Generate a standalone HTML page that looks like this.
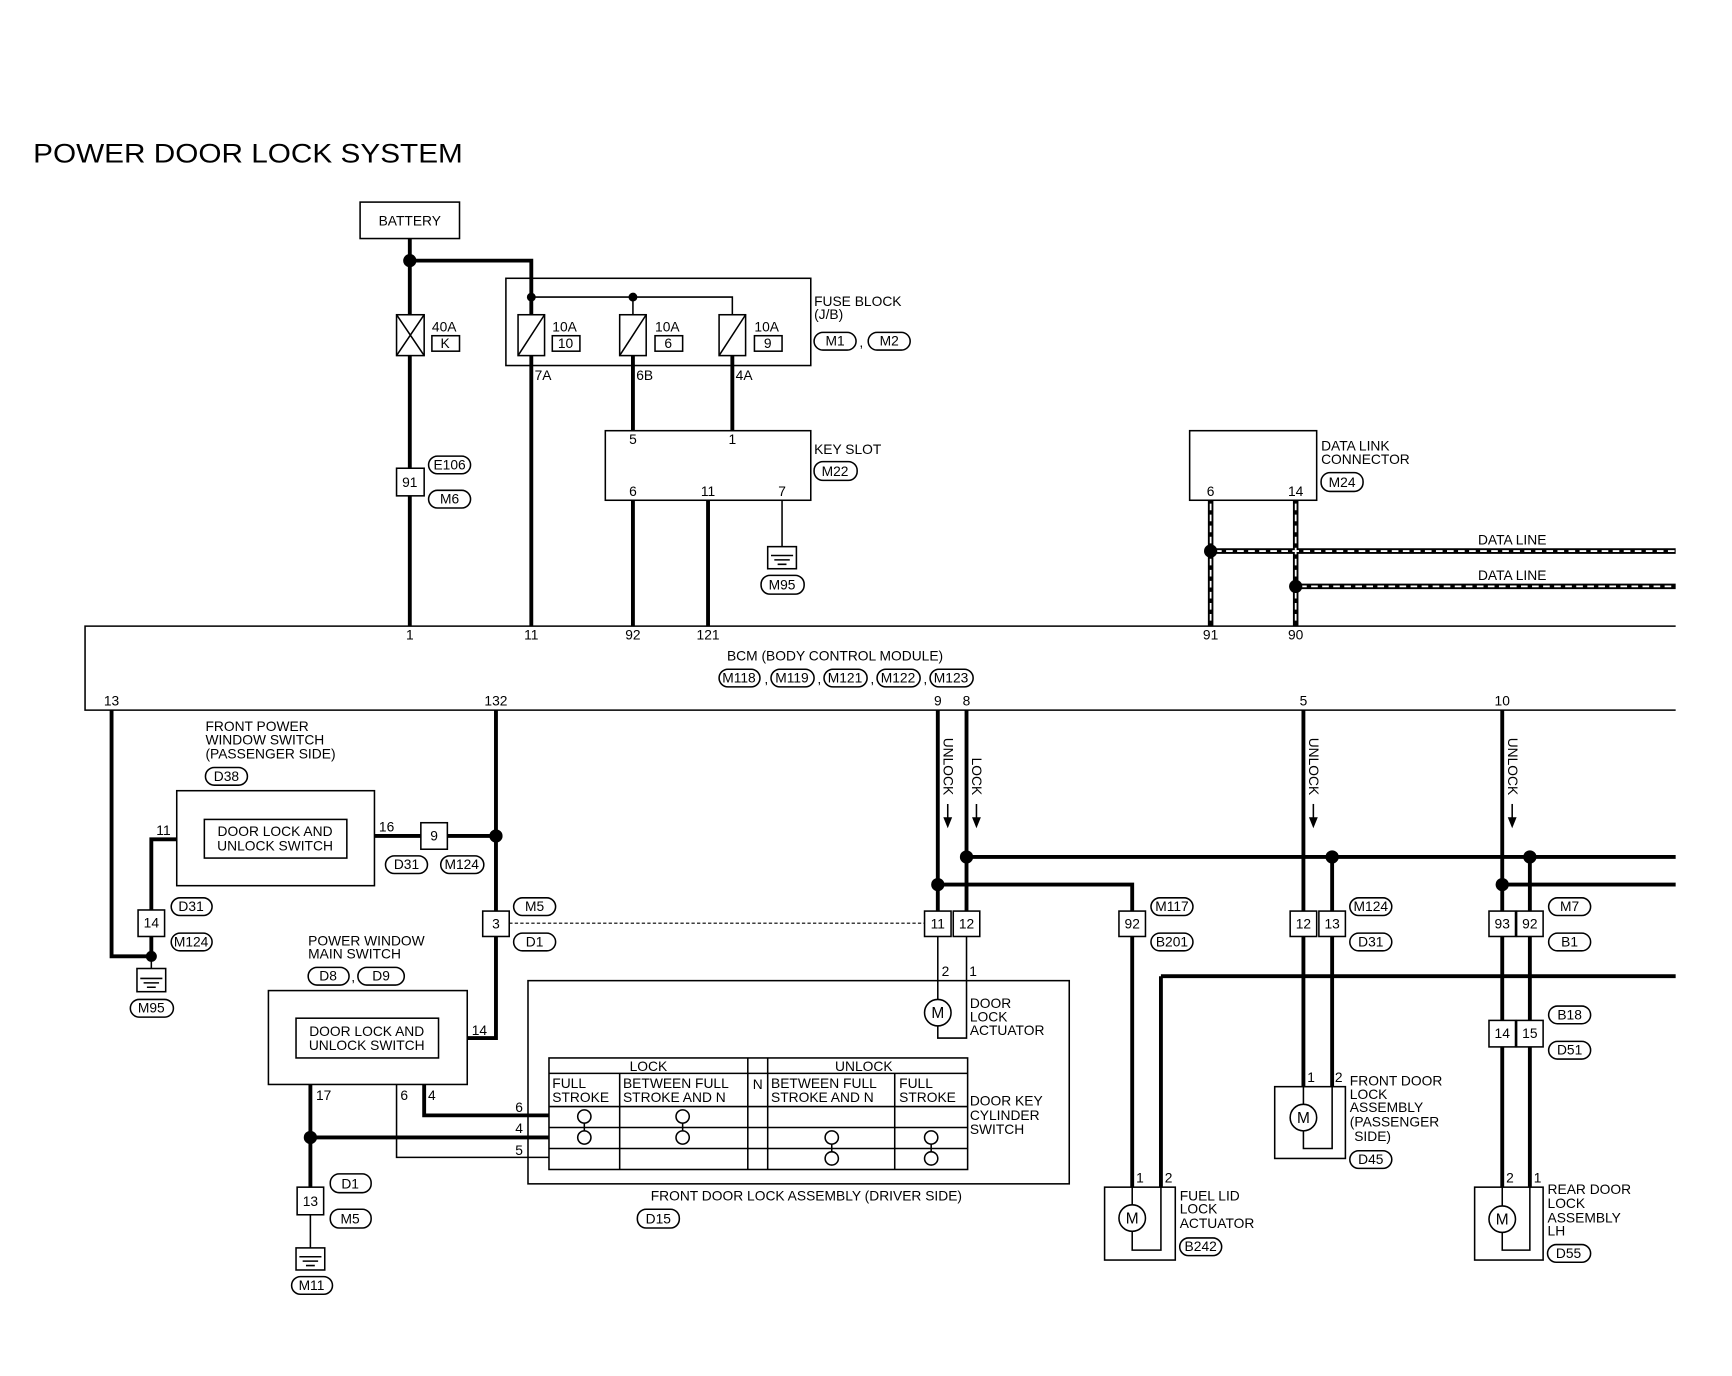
<!DOCTYPE html>
<html><head><meta charset="utf-8"><style>
html,body{margin:0;padding:0;background:#fff;}
svg{display:block;}
text{font-family:"Liberation Sans",sans-serif;font-size:12.5px;fill:#000;}
.t{stroke:#000;stroke-width:3.5;fill:none;}
.n{stroke:#000;stroke-width:1.4;fill:none;}
.b{stroke:#000;stroke-width:1.4;fill:#fff;}
.c{text-anchor:middle;}
</style></head><body>
<svg width="1732" height="1376" viewBox="0 0 1568 1246" preserveAspectRatio="none" xmlns="http://www.w3.org/2000/svg">
<rect width="1568" height="1246" fill="#fff"/>
<text x="30" y="147" style="font-size:24px" textLength="389" lengthAdjust="spacingAndGlyphs">POWER DOOR LOCK SYSTEM</text>

<!-- Battery -->
<rect class="b" x="326" y="183" width="90" height="33"/>
<text x="371" y="204" class="c">BATTERY</text>
<path class="t" d="M371 216V285M371 322V567M371 236H481V269"/>
<circle cx="371" cy="236" r="6"/>
<!-- 40A fuse -->
<rect class="b" x="359" y="285" width="25" height="37"/>
<path class="n" d="M359 285L384 322M384 285L359 322"/>
<text x="391" y="300">40A</text>
<rect class="b" x="391" y="304" width="25" height="14"/><text x="403" y="315" class="c">K</text>
<!-- connector 91 -->
<rect class="b" x="359" y="424" width="25" height="25"/><text x="371" y="441" class="c">91</text>
<rect class="b" x="388" y="413" width="38" height="16" rx="8"/><text x="407" y="425" class="c">E106</text>
<rect class="b" x="388" y="444" width="38" height="16" rx="8"/><text x="407" y="456" class="c">M6</text>

<!-- Fuse block -->
<rect class="n" x="458" y="252" width="276" height="79"/>
<path class="n" d="M481 269H663V285M573 269V285"/>
<path class="t" d="M481 269V285"/>
<circle cx="481" cy="269" r="4"/><circle cx="573" cy="269" r="4"/>
<g>
<rect class="b" x="469" y="285" width="24" height="37"/><path class="n" d="M469 322L493 285"/>
<text x="500" y="300">10A</text><rect class="b" x="500" y="304" width="25" height="14"/><text x="512" y="315" class="c">10</text>
<rect class="b" x="561" y="285" width="24" height="37"/><path class="n" d="M561 322L585 285"/>
<text x="593" y="300">10A</text><rect class="b" x="593" y="304" width="25" height="14"/><text x="605" y="315" class="c">6</text>
<rect class="b" x="651" y="285" width="24" height="37"/><path class="n" d="M651 322L675 285"/>
<text x="683" y="300">10A</text><rect class="b" x="683" y="304" width="25" height="14"/><text x="695" y="315" class="c">9</text>
</g>
<text x="737" y="277">FUSE BLOCK</text><text x="737" y="289">(J/B)</text>
<rect class="b" x="737" y="301" width="38" height="16" rx="8"/><text x="756" y="313" class="c">M1</text>
<text x="778" y="314">,</text>
<rect class="b" x="786" y="301" width="38" height="16" rx="8"/><text x="805" y="313" class="c">M2</text>
<path class="t" d="M481 322V567M573 322V390M663 322V390"/>
<text x="484" y="344">7A</text><text x="576" y="344">6B</text><text x="666" y="344">4A</text>

<!-- Key slot -->
<rect class="b" x="548" y="390" width="186" height="63"/>
<text x="573" y="402" class="c">5</text><text x="663" y="402" class="c">1</text>
<text x="573" y="449" class="c">6</text><text x="641" y="449" class="c">11</text><text x="708" y="449" class="c">7</text>
<text x="737" y="411">KEY SLOT</text>
<rect class="b" x="737" y="418" width="39" height="17" rx="8"/><text x="756" y="431" class="c">M22</text>
<path class="t" d="M573 453V567M641 453V567"/>
<path class="n" d="M708 453V495"/>
<rect class="b" x="695" y="495" width="26" height="20"/>
<path class="n" d="M698 503H718M701 507H715M704 511H712"/>
<rect class="b" x="689" y="521" width="39" height="17" rx="8"/><text x="708" y="534" class="c">M95</text>

<!-- Data link connector -->
<rect class="b" x="1077" y="390" width="115" height="63"/>
<text x="1096" y="449" class="c">6</text><text x="1173" y="449" class="c">14</text>
<text x="1196" y="408">DATA LINK</text><text x="1196" y="420">CONNECTOR</text>
<rect class="b" x="1196" y="428" width="38" height="17" rx="8"/><text x="1215" y="441" class="c">M24</text>
<g stroke="#000" stroke-width="5" fill="none">
<path d="M1096 453V567M1173 453V567M1096 499H1517M1173 531H1517"/>
</g>
<g stroke="#fff" stroke-width="1.6" stroke-dasharray="6 4" fill="none">
<path d="M1096 456V564M1173 456V564M1100 499H1517M1177 531H1517"/>
</g>
<circle cx="1096" cy="499" r="6"/><circle cx="1173" cy="531" r="6"/>
<text x="1338" y="493">DATA LINE</text><text x="1338" y="525">DATA LINE</text>

<!-- BCM -->
<path class="n" d="M1517 567H77V643H1517"/>
<text x="371" y="579" class="c">1</text><text x="481" y="579" class="c">11</text><text x="573" y="579" class="c">92</text>
<text x="641" y="579" class="c">121</text><text x="1096" y="579" class="c">91</text><text x="1173" y="579" class="c">90</text>
<text x="756" y="598" class="c">BCM (BODY CONTROL MODULE)</text>
<rect class="b" x="651" y="606" width="37" height="16" rx="8"/><text x="669" y="618" class="c">M118</text>
<rect class="b" x="698" y="606" width="39" height="16" rx="8"/><text x="717" y="618" class="c">M119</text>
<rect class="b" x="746" y="606" width="39" height="16" rx="8"/><text x="765" y="618" class="c">M121</text>
<rect class="b" x="794" y="606" width="39" height="16" rx="8"/><text x="813" y="618" class="c">M122</text>
<rect class="b" x="842" y="606" width="39" height="16" rx="8"/><text x="861" y="618" class="c">M123</text>
<text x="692" y="619">,</text><text x="740" y="619">,</text><text x="788" y="619">,</text><text x="836" y="619">,</text>
<text x="101" y="639" class="c">13</text><text x="449" y="639" class="c">132</text>
<text x="849" y="639" class="c">9</text><text x="875" y="639" class="c">8</text>
<text x="1180" y="639" class="c">5</text><text x="1360" y="639" class="c">10</text>

<!-- Passenger window switch -->
<path class="t" d="M101 643V866H137V848M137 824V760H160"/>
<path class="n" d="M137 866V877"/>
<circle cx="137" cy="866" r="5"/>
<text x="148" y="756" class="c">11</text>
<text x="186" y="662">FRONT POWER</text><text x="186" y="674">WINDOW SWITCH</text><text x="186" y="687">(PASSENGER SIDE)</text>
<rect class="b" x="186" y="695" width="38" height="16" rx="8"/><text x="205" y="707" class="c">D38</text>
<rect class="b" x="160" y="716" width="179" height="86"/>
<rect class="b" x="185" y="742" width="129" height="35"/>
<text x="249" y="757" class="c">DOOR LOCK AND</text><text x="249" y="770" class="c">UNLOCK SWITCH</text>
<text x="350" y="753" class="c">16</text>
<path class="t" d="M339 757H381M405 757H449"/>
<rect class="b" x="381" y="745" width="24" height="24"/><text x="393" y="761" class="c">9</text>
<rect class="b" x="349" y="775" width="38" height="16" rx="8"/><text x="368" y="787" class="c">D31</text>
<rect class="b" x="399" y="775" width="39" height="16" rx="8"/><text x="418" y="787" class="c">M124</text>
<rect class="b" x="125" y="824" width="24" height="24"/><text x="137" y="840" class="c">14</text>
<rect class="b" x="155" y="813" width="37" height="16" rx="8"/><text x="173" y="825" class="c">D31</text>
<rect class="b" x="155" y="845" width="37" height="16" rx="8"/><text x="173" y="857" class="c">M124</text>
<rect class="b" x="124" y="877" width="26" height="21"/>
<path class="n" d="M127 886H147M130 890H144M133 894H141"/>
<rect class="b" x="118" y="905" width="39" height="16" rx="8"/><text x="137" y="917" class="c">M95</text>

<!-- 132 line -->
<path class="t" d="M449 643V825M449 848V940H423"/>
<circle cx="449" cy="757" r="6"/>
<rect class="b" x="437" y="825" width="24" height="23"/><text x="449" y="841" class="c">3</text>
<rect class="b" x="465" y="813" width="38" height="16" rx="8"/><text x="484" y="825" class="c">M5</text>
<rect class="b" x="465" y="845" width="38" height="16" rx="8"/><text x="484" y="857" class="c">D1</text>
<path d="M461 836H837" stroke="#000" stroke-width="1" stroke-dasharray="3 2"/>
<text x="434" y="937" class="c">14</text>

<!-- Main switch -->
<text x="279" y="856">POWER WINDOW</text><text x="279" y="868">MAIN SWITCH</text>
<rect class="b" x="279" y="876" width="37" height="16" rx="8"/><text x="297" y="888" class="c">D8</text>
<text x="318" y="889">,</text>
<rect class="b" x="324" y="876" width="42" height="16" rx="8"/><text x="345" y="888" class="c">D9</text>
<rect class="b" x="243" y="897" width="180" height="85"/>
<rect class="b" x="268" y="922" width="129" height="36"/>
<text x="332" y="938" class="c">DOOR LOCK AND</text><text x="332" y="951" class="c">UNLOCK SWITCH</text>
<text x="293" y="996" class="c">17</text><text x="366" y="996" class="c">6</text><text x="391" y="996" class="c">4</text>
<path class="t" d="M281 982V1075M281 1030H497M384 982V1010H497"/>
<path class="n" d="M359 982V1048H497M281 1100V1130"/>
<circle cx="281" cy="1030" r="6"/>
<text x="470" y="1007" class="c">6</text><text x="470" y="1026" class="c">4</text><text x="470" y="1046" class="c">5</text>
<rect class="b" x="269" y="1075" width="24" height="25"/><text x="281" y="1092" class="c">13</text>
<rect class="b" x="299" y="1063" width="37" height="17" rx="8"/><text x="317" y="1076" class="c">D1</text>
<rect class="b" x="299" y="1095" width="37" height="17" rx="8"/><text x="317" y="1108" class="c">M5</text>
<rect class="b" x="268" y="1130" width="26" height="20"/>
<path class="n" d="M271 1138H291M274 1142H288M277 1146H285"/>
<rect class="b" x="264" y="1156" width="37" height="16" rx="8"/><text x="282" y="1168" class="c">M11</text>

<!-- Driver door lock assembly -->
<rect class="n" x="478" y="888" width="490" height="184"/>
<rect class="b" x="497" y="958" width="379" height="101"/>
<path class="n" d="M497 972H876M497 1002H876M497 1021H876M497 1040H876M561 972V1059M677 958V1059M695 958V1059M810 972V1059"/>
<text x="587" y="970" class="c">LOCK</text><text x="782" y="970" class="c">UNLOCK</text>
<text x="686" y="986" class="c">N</text>
<text x="500" y="985">FULL</text><text x="500" y="998">STROKE</text>
<text x="564" y="985">BETWEEN FULL</text><text x="564" y="998">STROKE AND N</text>
<text x="698" y="985">BETWEEN FULL</text><text x="698" y="998">STROKE AND N</text>
<text x="814" y="985">FULL</text><text x="814" y="998">STROKE</text>
<g class="n">
<path d="M529 1017V1024M618 1017V1024M753 1036V1043M843 1036V1043"/>
<circle cx="529" cy="1011" r="6"/><circle cx="529" cy="1030" r="6"/>
<circle cx="618" cy="1011" r="6"/><circle cx="618" cy="1030" r="6"/>
<circle cx="753" cy="1030" r="6"/><circle cx="753" cy="1049" r="6"/>
<circle cx="843" cy="1030" r="6"/><circle cx="843" cy="1049" r="6"/>
</g>
<text x="878" y="1001">DOOR KEY</text><text x="878" y="1014">CYLINDER</text><text x="878" y="1027">SWITCH</text>
<text x="730" y="1087" class="c">FRONT DOOR LOCK ASSEMBLY (DRIVER SIDE)</text>
<rect class="b" x="577" y="1095" width="38" height="17" rx="8"/><text x="596" y="1108" class="c">D15</text>

<!-- Door lock actuator -->
<path class="t" d="M849 643V825M875 643V825"/>
<text transform="translate(854 668) rotate(90)">UNLOCK</text>
<text transform="translate(880 686) rotate(90)">LOCK</text>
<path class="n" d="M858 728V742M884 728V742"/>
<path d="M854 740L858 750L862 740ZM880 740L884 750L888 740Z"/>
<rect class="b" x="837" y="825" width="24" height="23"/><text x="849" y="841" class="c">11</text>
<rect class="b" x="863" y="825" width="24" height="23"/><text x="875" y="841" class="c">12</text>
<text x="856" y="884" class="c">2</text><text x="881" y="884" class="c">1</text>
<path class="n" d="M849 848V905M849 929V940H875V848"/>
<circle class="b" cx="849" cy="917" r="12"/><text x="849" y="922" class="c" style="font-size:14px">M</text>
<text x="878" y="913">DOOR</text><text x="878" y="925">LOCK</text><text x="878" y="937">ACTUATOR</text>

<!-- Horizontal buses -->
<path class="t" d="M875 776H1517M849 801H1025V825M1360 801H1517M1051 884H1517"/>
<circle cx="875" cy="776" r="6"/><circle cx="849" cy="801" r="6"/>
<circle cx="1206" cy="776" r="6"/><circle cx="1385" cy="776" r="6"/><circle cx="1360" cy="801" r="6"/>

<!-- Fuel lid -->
<rect class="b" x="1013" y="825" width="24" height="23"/><text x="1025" y="841" class="c">92</text>
<rect class="b" x="1042" y="813" width="38" height="16" rx="8"/><text x="1061" y="825" class="c">M117</text>
<rect class="b" x="1042" y="845" width="38" height="16" rx="8"/><text x="1061" y="857" class="c">B201</text>
<path class="t" d="M1025 848V1075M1051 884V1075"/>
<rect class="n" x="1000" y="1075" width="64" height="66"/>
<path class="n" d="M1025 1075V1091M1025 1115V1132H1051V1075"/>
<circle class="b" cx="1025" cy="1103" r="12"/><text x="1025" y="1108" class="c" style="font-size:14px">M</text>
<text x="1032" y="1071" class="c">1</text><text x="1058" y="1071" class="c">2</text>
<text x="1068" y="1087">FUEL LID</text><text x="1068" y="1099">LOCK</text><text x="1068" y="1112">ACTUATOR</text>
<rect class="b" x="1068" y="1121" width="38" height="16" rx="8"/><text x="1087" y="1133" class="c">B242</text>

<!-- Front door passenger -->
<path class="t" d="M1180 643V825M1206 776V825"/>
<text transform="translate(1185 668) rotate(90)">UNLOCK</text>
<path class="n" d="M1189 728V742"/><path d="M1185 740L1189 750L1193 740Z"/>
<rect class="b" x="1168" y="825" width="24" height="23"/><text x="1180" y="841" class="c">12</text>
<rect class="b" x="1194" y="825" width="24" height="23"/><text x="1206" y="841" class="c">13</text>
<rect class="b" x="1222" y="813" width="38" height="16" rx="8"/><text x="1241" y="825" class="c">M124</text>
<rect class="b" x="1222" y="845" width="38" height="16" rx="8"/><text x="1241" y="857" class="c">D31</text>
<path class="t" d="M1180 848V984M1206 848V984"/>
<rect class="n" x="1154" y="984" width="64" height="65"/>
<path class="n" d="M1180 984V1000M1180 1024V1040H1206V984"/>
<circle class="b" cx="1180" cy="1012" r="12"/><text x="1180" y="1017" class="c" style="font-size:14px">M</text>
<text x="1187" y="980" class="c">1</text><text x="1212" y="980" class="c">2</text>
<text x="1222" y="983">FRONT DOOR</text><text x="1222" y="995">LOCK</text><text x="1222" y="1007">ASSEMBLY</text><text x="1222" y="1020">(PASSENGER</text><text x="1226" y="1033">SIDE)</text>
<rect class="b" x="1222" y="1042" width="38" height="16" rx="8"/><text x="1241" y="1054" class="c">D45</text>

<!-- Rear door LH -->
<path class="t" d="M1360 643V825M1385 776V825"/>
<text transform="translate(1365 668) rotate(90)">UNLOCK</text>
<path class="n" d="M1369 728V742"/><path d="M1365 740L1369 750L1373 740Z"/>
<rect class="b" x="1348" y="825" width="24" height="23"/><text x="1360" y="841" class="c">93</text>
<rect class="b" x="1373" y="825" width="24" height="23"/><text x="1385" y="841" class="c">92</text>
<rect class="b" x="1402" y="813" width="38" height="16" rx="8"/><text x="1421" y="825" class="c">M7</text>
<rect class="b" x="1402" y="845" width="38" height="16" rx="8"/><text x="1421" y="857" class="c">B1</text>
<path class="t" d="M1360 848V924M1385 848V924M1360 948V1075M1385 948V1075"/>
<rect class="b" x="1348" y="924" width="24" height="24"/><text x="1360" y="940" class="c">14</text>
<rect class="b" x="1373" y="924" width="24" height="24"/><text x="1385" y="940" class="c">15</text>
<rect class="b" x="1402" y="911" width="38" height="16" rx="8"/><text x="1421" y="923" class="c">B18</text>
<rect class="b" x="1402" y="943" width="38" height="16" rx="8"/><text x="1421" y="955" class="c">D51</text>
<rect class="n" x="1335" y="1075" width="62" height="66"/>
<path class="n" d="M1360 1075V1092M1360 1116V1132H1385V1075"/>
<circle class="b" cx="1360" cy="1104" r="12"/><text x="1360" y="1109" class="c" style="font-size:14px">M</text>
<text x="1367" y="1071" class="c">2</text><text x="1392" y="1071" class="c">1</text>
<text x="1401" y="1081">REAR DOOR</text><text x="1401" y="1094">LOCK</text><text x="1401" y="1107">ASSEMBLY</text><text x="1401" y="1119">LH</text>
<rect class="b" x="1401" y="1127" width="39" height="16" rx="8"/><text x="1420" y="1139" class="c">D55</text>
</svg>
</body></html>
